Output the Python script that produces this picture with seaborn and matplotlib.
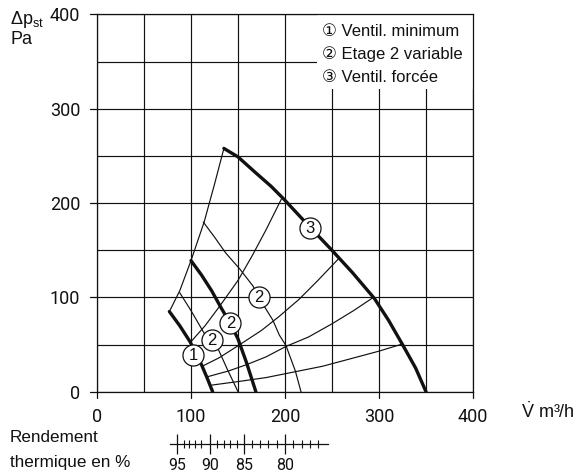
import matplotlib
matplotlib.use("Agg")
import matplotlib.pyplot as plt
import pandas as pd
import seaborn as sns
from matplotlib.patches import Rectangle

# Fan characteristic curves: flow (m3/h) and static pressure (Pa)
fan1_flow = [77, 88, 99, 111, 117, 123]
fan1_pa = [85, 70, 53, 29, 15, 0]

fan2_flow = [100, 111, 122, 132, 142, 150, 159, 169]
fan2_pa = [139, 124, 107, 89, 72, 56, 31, 0]

fan3_flow = [135, 150, 169, 185, 199, 213, 227, 249, 272, 295, 310, 325, 339, 350]
fan3_pa = [258, 249, 232, 218, 204, 189, 174, 151, 126, 99, 76, 50, 25, 0]

# Intermediate speeds of stage 2
stage2a_flow = [88, 100, 114, 122, 129, 139, 150]
stage2a_pa = [105, 86, 62, 54, 45, 23, 0]

stage2b_flow = [113, 125, 137, 152, 166, 172, 187, 194, 201, 211, 217]
stage2b_pa = [180, 164, 147, 130, 112, 100, 76, 60, 49, 22, 0]

# System (network) curves
sys0_flow = [77, 88, 100, 114, 125, 135]
sys0_pa = [85, 107, 139, 180, 220, 258]

sys1_flow = [100, 115, 130, 150, 165, 180, 196]
sys1_pa = [53, 70, 90, 118, 144, 172, 204]

sys2_flow = [112, 130, 152, 175, 194, 215, 235, 257]
sys2_pa = [27, 36, 50, 65, 80, 98, 118, 141]

sys3_flow = [118, 140, 160, 180, 201, 225, 250, 273, 294]
sys3_pa = [16, 22, 29, 37, 48, 58, 72, 86, 100]

sys4_flow = [122, 152, 180, 210, 240, 270, 300, 323]
sys4_pa = [7, 11, 15, 21, 27, 35, 43, 50]

# Numbered markers on the curves
marker_flow = [102, 122, 142, 172, 227]
marker_pa = [39, 55, 73, 100, 174]
marker_text = ["1", "2", "2", "2", "3"]

legend_lines = ["\u2460 Ventil. minimum", "\u2461 Etage 2 variable", "\u2462 Ventil. forc\u00e9e"]

# Thermal efficiency scale placed under the flow axis
eff_major = [95, 90, 85, 80]
eff_major_flow = [85.2, 120.2, 156.3, 200.4]
eff_minor_flow = [92.3, 98.3, 104.2, 110.2, 127.6, 134.7, 141.8, 148.8,
                  164.7, 173.6, 182.4, 191.2, 208.9, 217.7, 226.6, 235.4]
eff_span = [77.4, 245.3]

x_ticks = [0, 100, 200, 300, 400]
y_ticks = [0, 100, 200, 300, 400]

sns.set_theme(style="white")
plt.rcParams["font.family"] = ["Liberation Sans", "DejaVu Sans"]
plt.rcParams["mathtext.fontset"] = "custom"
plt.rcParams["mathtext.rm"] = "Liberation Sans"
plt.rcParams["mathtext.it"] = "Liberation Sans"

W, H = 585, 475
fig = plt.figure(figsize=(W / 100, H / 100), dpi=100)
L, R, B, T = 97, 473, 391.7, 14.5
ax = fig.add_axes([L / W, 1 - B / H, (R - L) / W, (B - T) / H])

ink = "#111111"


def curve(xs, ys, lw):
    df = pd.DataFrame({"q": xs, "p": ys})
    sns.lineplot(data=df, x="q", y="p", ax=ax, color=ink, linewidth=lw,
                 sort=False, estimator=None, zorder=3)


for xs, ys in [(sys0_flow, sys0_pa), (sys1_flow, sys1_pa), (sys2_flow, sys2_pa),
               (sys3_flow, sys3_pa), (sys4_flow, sys4_pa),
               (stage2a_flow, stage2a_pa), (stage2b_flow, stage2b_pa)]:
    curve(xs, ys, 0.85)
for xs, ys in [(fan1_flow, fan1_pa), (fan2_flow, fan2_pa), (fan3_flow, fan3_pa)]:
    curve(xs, ys, 2.4)

mk = pd.DataFrame({"q": marker_flow, "p": marker_pa})
sns.scatterplot(data=mk, x="q", y="p", ax=ax, s=230, color="white",
                edgecolor=ink, linewidth=0.9, zorder=5)
for q, p, t in zip(marker_flow, marker_pa, marker_text):
    ax.text(q, p - 0.5, t, ha="center", va="center", fontsize=12,
            color=ink, zorder=6)

ax.set_xlim(0, 400)
ax.set_ylim(0, 400)
ax.set_xticks(range(0, 401, 50))
ax.set_yticks(range(0, 401, 50))
ax.grid(True, color=ink, linewidth=0.85)
ax.set_axisbelow(True)
for s in ax.spines.values():
    s.set_color(ink)
    s.set_linewidth(0.9)
ax.set_xticklabels([str(v) if v in x_ticks else "" for v in range(0, 401, 50)])
ax.set_yticklabels([str(v) if v in y_ticks else "" for v in range(0, 401, 50)])
ax.tick_params(axis="both", length=0, pad=12, labelsize=13,
               colors=ink, labelcolor=ink)
ax.set_xlabel("")
ax.set_ylabel("")
for v in x_ticks:
    ax.plot([v, v], [0, -7], color=ink, lw=0.9, clip_on=False, zorder=4)
    ax.plot([-7, 0], [v, v], color=ink, lw=0.9, clip_on=False, zorder=4)
for lab in ax.get_xticklabels() + ax.get_yticklabels():
    lab.set_fontfamily("Roboto")
    lab.set_color(ink)

# legend block in the upper right corner
ax.add_patch(Rectangle((0.585, 0.8025), 0.415, 0.1975, transform=ax.transAxes,
                       facecolor="white", edgecolor="none", zorder=2.5))
for i, line in enumerate(legend_lines):
    fig.text(321.5 / W, 1 - (32 + 22.6 * i) / H, line, fontsize=12,
             ha="left", va="center", color=ink)

fig.text(10 / W, 1 - 19 / H, r"$\Delta\mathrm{p}_{\mathrm{st}}$", fontsize=13,
         ha="left", va="center", color=ink)
fig.text(10 / W, 1 - 40 / H, "Pa", fontsize=13, ha="left", va="center", color=ink)
fig.text(521 / W, 1 - 412 / H, r"$\dot{\mathrm{V}}$ m³/h", fontsize=13,
         ha="left", va="center", color=ink)
fig.text(10 / W, 1 - 438 / H, "Rendement", fontsize=12.3, ha="left",
         va="center", color=ink)
fig.text(10 / W, 1 - 462 / H, "thermique en %", fontsize=12.3, ha="left",
         va="center", color=ink)

# efficiency scale
ey = 444
eax = fig.add_axes([L / W, 1 - ey / H, (R - L) / W, 0.0001])
eax.set_xlim(0, 400)
eax.set_facecolor("none")
for k in ["top", "left", "right"]:
    eax.spines[k].set_visible(False)
eax.spines["bottom"].set_bounds(*eff_span)
eax.spines["bottom"].set_color(ink)
eax.spines["bottom"].set_linewidth(0.9)
eax.set_yticks([])
eax.set_xticks(eff_major_flow)
eax.set_xticklabels([str(v) for v in eff_major])
eax.set_xticks(eff_minor_flow, minor=True)
eax.tick_params(axis="x", which="major", bottom=True, direction="inout",
                length=14, width=0.9, pad=3, labelsize=11.5, colors=ink,
                labelcolor=ink)
eax.tick_params(axis="x", which="minor", bottom=True, direction="inout",
                length=6, width=0.8, colors=ink)
for lab in eax.get_xticklabels():
    lab.set_fontfamily("Roboto")
    lab.set_color(ink)

fig.savefig("out.png", dpi=100)
